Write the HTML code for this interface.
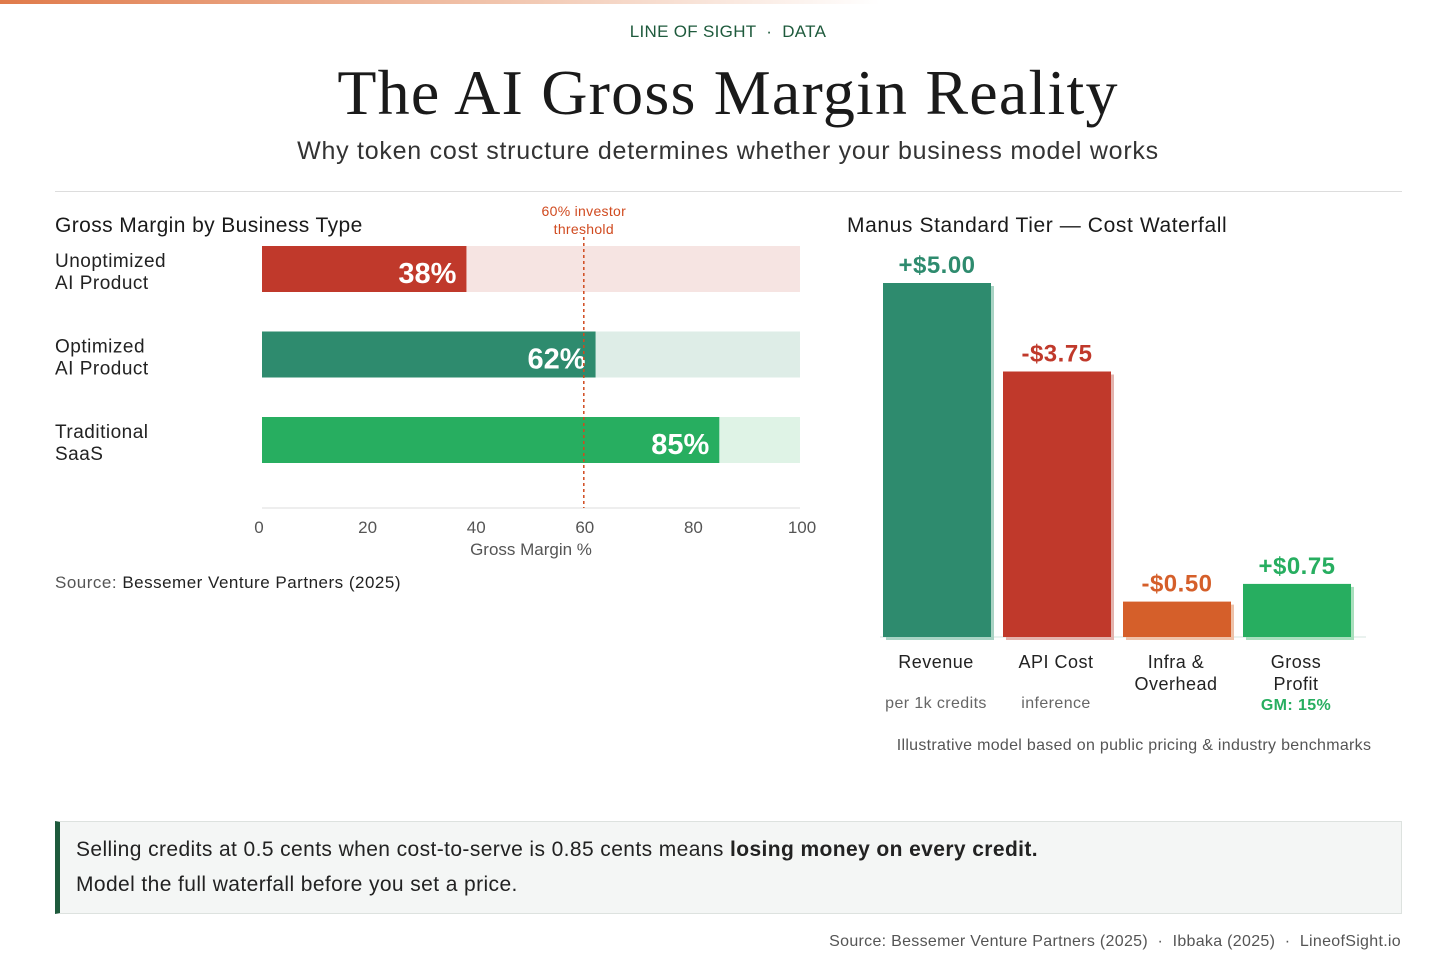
<!DOCTYPE html>
<html><head><meta charset="utf-8"><style>
*{margin:0;padding:0;box-sizing:border-box}
body{width:1456px;height:965px;background:#fff;font-family:"Liberation Sans",sans-serif;position:relative;overflow:hidden;color:#222}
.abs{position:absolute}
</style></head><body>
<div class="abs" style="left:0;top:0;width:880px;height:4px;background:linear-gradient(90deg,#e07a4a,#f2c9b3 60%,#fff)"></div>
<div class="abs" style="left:0;width:1456px;top:22px;text-align:center;font-size:17px;color:#1e5a3c;letter-spacing:0.3px">LINE OF SIGHT &nbsp;·&nbsp; DATA</div>
<div class="abs" style="left:0;width:1456px;top:56px;text-align:center;font-family:'Liberation Serif',serif;font-size:64px;color:#1a1a1a;letter-spacing:1.2px">The AI Gross Margin Reality</div>
<div class="abs" style="left:0;width:1456px;top:137px;text-align:center;font-size:25px;color:#333;letter-spacing:0.75px">Why token cost structure determines whether your business model works</div>
<div class="abs" style="left:55px;top:191px;width:1347px;height:1px;background:#ddd"></div>

<svg class="abs" style="left:0;top:0" width="1456" height="965">
<g id="left"></g><g id="right"></g>
</svg>

<div class="abs" style="left:55px;top:821px;width:1347px;height:93px;background:#f4f6f5;border:1px solid #dde2df;border-left:5px solid #1e5a3c;padding:10px 0 0 16px;font-size:21px;line-height:35px;color:#222;letter-spacing:0.4px">
Selling credits at 0.5 cents when cost-to-serve is 0.85 cents means <b>losing money on every credit.</b><br>Model the full waterfall before you set a price.</div>
<div class="abs" style="right:55px;top:933px;font-size:16px;color:#555;letter-spacing:0.3px">Source: Bessemer Venture Partners (2025) &nbsp;·&nbsp; Ibbaka (2025) &nbsp;·&nbsp; LineofSight.io</div>

<script>
const NS="http://www.w3.org/2000/svg";
const gmCategories=[["Unoptimized","AI Product"],["Optimized","AI Product"],["Traditional","SaaS"]];
const gmValues=[38,62,85];
const gmColors=["#c0392b","#2e8b6e","#27ae60"];
const gmBg=["#f6e4e2","#deede7","#dff3e6"];
const gmTicks=[0,20,40,60,80,100];
const threshold=60;
const wfCategories=[["Revenue"],["API Cost"],["Infra &","Overhead"],["Gross","Profit"]];
const wfValues=[5.00,3.75,0.50,0.75];
const wfLabels=["+$5.00","-$3.75","-$0.50","+$0.75"];
const wfSub=["per 1k credits","inference","","GM: 15%"];
const wfColors=["#2e8b6e","#c0392b","#d55f2a","#27ae60"];
const wfShadow=["#a9d3c4","#e3b3ad","#eec2a9","#a9dfbd"];

function el(tag,attrs,parent,text){const e=document.createElementNS(NS,tag);for(const k in attrs)e.setAttribute(k,attrs[k]);if(text!==undefined)e.textContent=text;parent.appendChild(e);return e;}
const F="Liberation Sans, sans-serif";
const L=document.getElementById('left');
const x=v=>262+v*(800-262)/100;
let t=el('text',{x:55,y:232,'font-size':21,'font-family':F,fill:'#1a1a1a','letter-spacing':0.4},L,'Gross Margin by Business Type');

gmValues.forEach((v,i)=>{
 const y=246+i*85.5;
 let r=el('rect',{x:x(0),y:y,width:x(100)-x(0),height:46,fill:gmBg[i]},L);
 
 let b=el('rect',{x:x(0),y:y,width:x(v)-x(0),height:46,fill:gmColors[i]},L);
 
 let l=el('text',{x:x(v)-10,y:y+37,'text-anchor':'end','font-size':29,'font-weight':'bold','font-family':F,fill:'#fff'},L,v+'%');
 
 gmCategories[i].forEach((s,j)=>{let c=el('text',{x:55,y:y+21+j*22,'font-size':19,'font-family':F,fill:'#222','letter-spacing':0.5},L,s);
 });
});
let ax=el('line',{x1:x(0),x2:x(100),y1:508,y2:508,stroke:'#ddd'},L);

gmTicks.forEach(v=>{let tt=el('text',{x:x(v)-3+v*0.05,y:533,'text-anchor':'middle','font-size':17,'font-family':F,fill:'#555'},L,v);
});
let xt=el('text',{x:531,y:555,'text-anchor':'middle','font-size':17,'font-family':F,fill:'#555'},L,'Gross Margin %');

let th=el('line',{x1:x(threshold)-1,x2:x(threshold)-1,y1:237,y2:508,stroke:'#d04a1f','stroke-width':1.5,'stroke-dasharray':'3,3'},L);

[threshold+'% investor','threshold'].forEach((s,j)=>{let a=el('text',{x:x(threshold)-1,y:216+j*18,'text-anchor':'middle','font-size':14,'font-family':F,fill:'#d04a1f','letter-spacing':0.3},L,s);
});
let src=el('text',{x:55,y:588,'font-size':17,'font-family':F,fill:'#555','letter-spacing':0.5},L);

el('tspan',{},src,'Source: ');el('tspan',{fill:'#222'},src,'Bessemer Venture Partners (2025)');
const R=document.getElementById('right');
const base=637,scale=354/5;
let rt=el('text',{x:847,y:232,'font-size':21,'font-family':F,fill:'#1a1a1a','letter-spacing':0.6},R,'Manus Standard Tier — Cost Waterfall');

let bl=el('line',{x1:880,x2:1366,y1:base,y2:base,stroke:'#d5e6df'},R);

wfValues.forEach((v,i)=>{
 const bx=883+i*120,w=108,h=v*scale,cx=bx+w/2;
 let s=el('rect',{x:bx+3,y:base-h+3,width:w,height:h,fill:wfShadow[i]},R);
 
 let b=el('rect',{x:bx,y:base-h,width:w,height:h,fill:wfColors[i]},R);
 
 let l=el('text',{x:cx,y:base-h-10,'text-anchor':'middle','font-size':24,'font-weight':'bold','font-family':F,fill:wfColors[i],'letter-spacing':0.5},R,wfLabels[i]);
 
 wfCategories[i].forEach((c,j)=>{let ct=el('text',{x:cx-1,y:668+j*22,'text-anchor':'middle','font-size':18,'font-family':F,fill:'#222','letter-spacing':0.5},R,c);
 });
 if(wfSub[i]){const gm=i===3;let st=el('text',{x:cx-1,y:gm?710:708,'text-anchor':'middle','font-size':16,'font-weight':gm?'bold':'normal','font-family':F,fill:gm?'#27ae60':'#666','letter-spacing':0.4},R,wfSub[i]);
 }
});
let n=el('text',{x:1134,y:750,'text-anchor':'middle','font-size':16,'font-family':F,fill:'#555','letter-spacing':0.3},R,'Illustrative model based on public pricing & industry benchmarks');

</script>
</body></html>
